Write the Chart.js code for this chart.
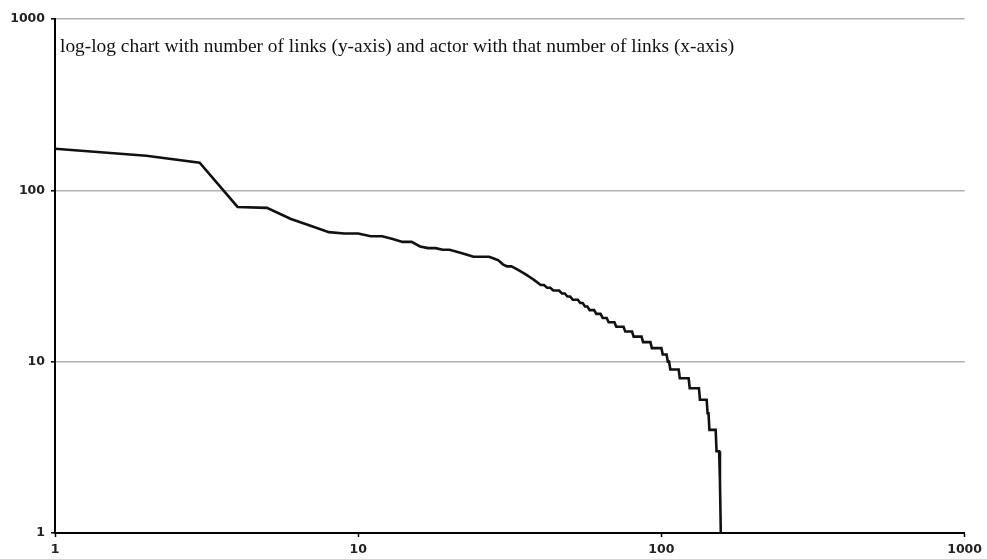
<!DOCTYPE html>
<html>
<head>
<meta charset="utf-8">
<script src="https://cdn.jsdelivr.net/npm/chart.js@4/dist/chart.umd.min.js"></script>
<style>
  html, body { margin: 0; padding: 0; background: #fff; }
  #wrap { width: 987px; height: 559px; position: relative; }
</style>
</head>
<body>
<div id="wrap"><canvas id="c" width="987" height="559"></canvas></div>
<script>
// Actor rank (x) and number of links of that actor (y)
const ranks = [
  1,2,3,4,5,6,7,8,9,10,
  11,12,13,14,15,16,17,18,19,20,
  21,22,23,24,25,26,27,28,29,30,
  31,32,33,34,35,36,37,38,39,40,
  41,42,43,44,45,46,47,48,49,50,
  51,52,53,54,55,56,57,58,59,60,
  61,62,63,64,65,66,67,68,69,70,
  71,72,73,74,75,76,77,78,79,80,
  81,82,83,84,85,86,87,88,89,90,
  91,92,93,94,95,96,97,98,99,100,
  101,102,103,104,105,106,107,108,109,110,
  111,112,113,114,115,116,117,118,119,120,
  121,122,123,124,125,126,127,128,129,130,
  131,132,133,134,135,136,137,138,139,140,
  141,142,143,144,145,146,147,148,149,150,
  151,152,153,154,155,156,157
];
const links = [
  175,159,145,80,79,68,62,57,56,56,
  54,54,52,50,50,47,46,46,45,45,
  44,43,42,41,41,41,41,40,39,37,
  36,36,35,34,33,32,31,30,29,28,
  28,27,27,26,26,26,25,25,24,24,
  23,23,23,22,22,21,21,20,20,20,
  19,19,19,18,18,18,17,17,17,17,
  16,16,16,16,16,15,15,15,15,15,
  14,14,14,14,14,14,13,13,13,13,
  13,13,12,12,12,12,12,12,12,12,
  11,11,11,11,10,10,9,9,9,9,
  9,9,9,9,8,8,8,8,8,8,
  8,8,8,7,7,7,7,7,7,7,
  7,7,7,6,6,6,6,6,6,6,
  6,5,5,4,4,4,4,4,4,4,
  4,3,3,3,3,2,1
];
const xTicks = [1, 10, 100, 1000];
const yTicks = [1, 10, 100, 1000];
const annotation = 'log-log chart with number of links (y-axis) and actor with that number of links (x-axis)';

const points = ranks.map((r, i) => ({ x: r, y: links[i] }));

const annotationPlugin = {
  id: 'annotationText',
  afterDraw(chart) {
    const ctx = chart.ctx;
    const area = chart.chartArea;
    ctx.save();
    ctx.fillStyle = '#111';
    ctx.font = '19.4px "Liberation Serif", "Times New Roman", serif';
    ctx.textBaseline = 'alphabetic';
    ctx.textAlign = 'left';
    ctx.fillText(annotation, area.left + 5, area.top + 33);
    ctx.restore();
  }
};

const tickFont = { family: '"DejaVu Sans", Verdana, sans-serif', size: 12.5, weight: 'bold' };

new Chart(document.getElementById('c'), {
  type: 'line',
  data: {
    datasets: [{
      data: points,
      borderColor: '#111',
      borderWidth: 2.6,
      pointRadius: 0,
      tension: 0,
      fill: false
    }]
  },
  options: {
    responsive: false,
    animation: false,
    layout: { padding: { top: 19, right: 22, left: 0, bottom: 0 } },
    plugins: { legend: { display: false }, tooltip: { enabled: false } },
    scales: {
      x: {
        type: 'logarithmic',
        min: 1,
        max: 1000,
        afterBuildTicks(scale) { scale.ticks = xTicks.map(v => ({ value: v })); },
        afterFit(scale) { scale.height = 26; },
        grid: { drawOnChartArea: false, drawTicks: true, tickLength: 4, tickColor: '#000', tickWidth: 1.5 },
        border: { color: '#000', width: 2 },
        ticks: {
          color: '#222',
          font: tickFont,
          padding: 5,
          maxRotation: 0,
          autoSkip: false,
          callback: v => String(v)
        }
      },
      y: {
        type: 'logarithmic',
        min: 1,
        max: 1000,
        afterBuildTicks(scale) { scale.ticks = yTicks.map(v => ({ value: v })); },
        afterFit(scale) { scale.width = 55; },
        grid: {
          drawOnChartArea: true,
          color: ctx => (ctx.tick && ctx.tick.value === 1) ? 'rgba(0,0,0,0)' : '#b0b0b0',
          lineWidth: 1.6,
          drawTicks: true,
          tickLength: 4,
          tickColor: '#000',
          tickWidth: 1.5
        },
        border: { color: '#000', width: 2 },
        ticks: {
          color: '#222',
          font: tickFont,
          padding: 6,
          autoSkip: false,
          callback: v => String(v)
        }
      }
    }
  },
  plugins: [annotationPlugin]
});
</script>
</body>
</html>
